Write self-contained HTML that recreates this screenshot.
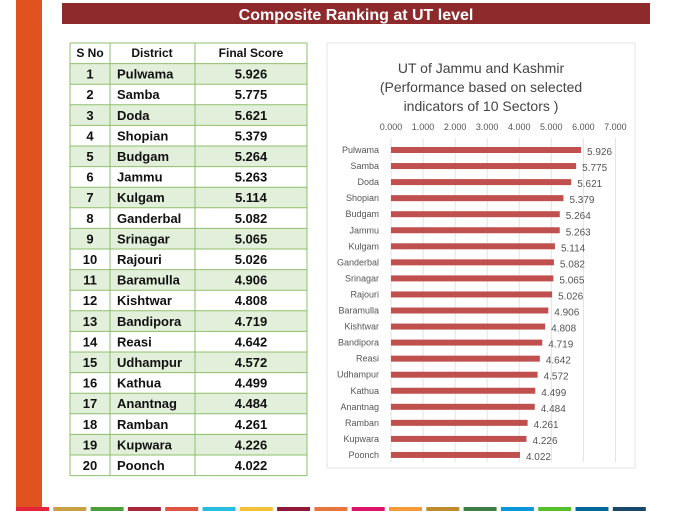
<!DOCTYPE html>
<html><head><meta charset="utf-8"><style>
body{margin:0;background:#fff;width:690px;height:511px;overflow:hidden;font-family:"Liberation Sans",sans-serif}
</style></head><body>
<svg width="690" height="511" xmlns="http://www.w3.org/2000/svg" font-family="Liberation Sans, sans-serif">
<rect x="16" y="0" width="26" height="511" fill="#e0521f"/>
<rect x="62" y="3" width="588" height="21" fill="#8e2a2b"/>
<text x="356" y="20" text-anchor="middle" fill="#fff" font-size="16" font-weight="bold">Composite Ranking at UT level</text>
<g id="strip"></g>
<g id="table"></g>
<rect x="327" y="43" width="308" height="425" fill="#fff" stroke="#e4e4e4"/>
<text x="481" y="73" text-anchor="middle" font-size="14" fill="#444">UT of Jammu and Kashmir</text>
<text x="481" y="92" text-anchor="middle" font-size="14" fill="#444">(Performance based on selected</text>
<text x="481" y="111" text-anchor="middle" font-size="14" fill="#444">indicators of 10 Sectors )</text>
<g id="chart"></g>
</svg>
<script>
const ns="http://www.w3.org/2000/svg";
function el(p,t,a,txt){const e=document.createElementNS(ns,t);for(const k in a)e.setAttribute(k,a[k]);if(txt!==undefined)e.textContent=txt;document.getElementById(p).appendChild(e);return e;}
const cols=["#e5243b","#c9a045","#4c9f38","#a8283a","#e0553f","#27bde2","#f6bf38","#8f1838","#e8743e","#dd1367","#f49d38","#bf8b2e","#3f7e44","#0a97d9","#56c02b","#00689d","#19486a"];
cols.forEach((c,i)=>el("strip","rect",{x:16+i*37.3,y:507,width:33,height:4,fill:c}));
const d=[["Pulwama",5.926],["Samba",5.775],["Doda",5.621],["Shopian",5.379],["Budgam",5.264],["Jammu",5.263],["Kulgam",5.114],["Ganderbal",5.082],["Srinagar",5.065],["Rajouri",5.026],["Baramulla",4.906],["Kishtwar",4.808],["Bandipora",4.719],["Reasi",4.642],["Udhampur",4.572],["Kathua",4.499],["Anantnag",4.484],["Ramban",4.261],["Kupwara",4.226],["Poonch",4.022]];
const tx=70,ty=43,rh=20.6;
el("table","rect",{x:tx,y:ty,width:237,height:rh,fill:"#fff"});
d.forEach((r,i)=>{const y=ty+rh*(i+1);el("table","rect",{x:tx,y:y,width:237,height:rh,fill:i%2==0?"#e2efda":"#fff"});});
for(let i=0;i<=21;i++)el("table","line",{x1:tx,x2:tx+237,y1:ty+rh*i,y2:ty+rh*i,stroke:"#8fbf6a","stroke-width":1});
[70,110,195,307].forEach(x=>el("table","line",{x1:x,x2:x,y1:ty,y2:ty+rh*21,stroke:"#8fbf6a","stroke-width":1}));
el("table","text",{x:90,y:ty+14,"text-anchor":"middle","font-size":12,"font-weight":"bold",fill:"#111"},"S No");
el("table","text",{x:152,y:ty+14,"text-anchor":"middle","font-size":12,"font-weight":"bold",fill:"#111"},"District");
el("table","text",{x:251,y:ty+14,"text-anchor":"middle","font-size":12,"font-weight":"bold",fill:"#111"},"Final Score");
d.forEach((r,i)=>{const y=ty+rh*(i+1)+15;
el("table","text",{x:90,y:y,"text-anchor":"middle","font-size":13,"font-weight":"bold",fill:"#111"},i+1);
el("table","text",{x:117,y:y,"font-size":13,"font-weight":"bold",fill:"#111"},r[0]);
el("table","text",{x:251,y:y,"text-anchor":"middle","font-size":13,"font-weight":"bold",fill:"#111"},r[1].toFixed(3));});
const x0=391,s=32.06;
for(let k=0;k<=7;k++){const x=x0+k*s;el("chart","line",{x1:x,x2:x,y1:138,y2:462,stroke:"#e2e2e2"});
el("chart","text",{x:x,y:130,"text-anchor":"middle","font-size":9,fill:"#555"},k.toFixed(3));}
d.forEach((r,i)=>{const cy=150+i*16.05;
el("chart","rect",{x:x0,y:cy-3,width:r[1]*s,height:6,fill:"#c0504d"});
el("chart","text",{x:x0-12,y:cy+3,"text-anchor":"end","font-size":9,fill:"#555"},r[0]);
el("chart","text",{x:x0+r[1]*s+6,y:cy+5,"font-size":10,fill:"#555"},r[1].toFixed(3));});
</script>
</body></html>
